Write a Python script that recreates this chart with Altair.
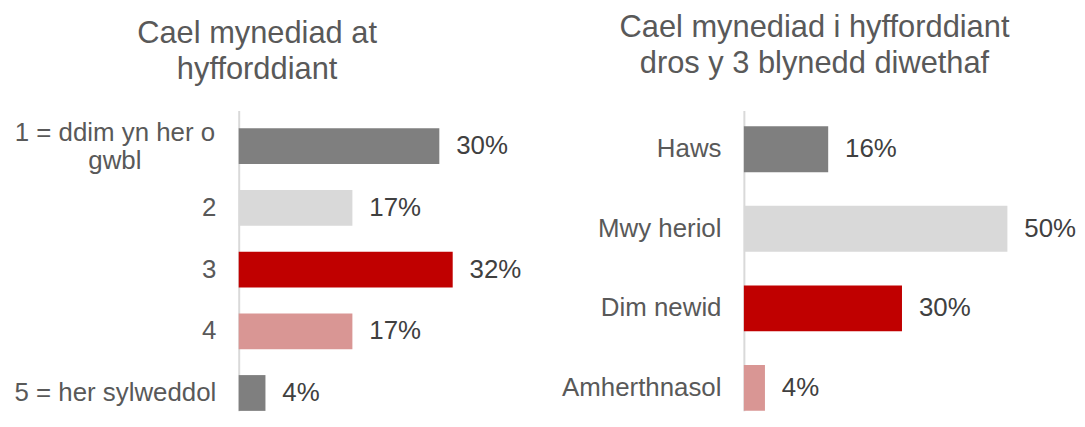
import altair as alt
import pandas as pd

# ---- data ----
left_title = ["Cael mynediad at", "hyfforddiant"]
left_cats = ["1 = ddim yn her o gwbl", "2", "3", "4", "5 = her sylweddol"]
left_vals = [30, 17, 32, 17, 4]
left_colors = ["#7f7f7f", "#d9d9d9", "#c00000", "#d99694", "#7f7f7f"]

right_title = ["Cael mynediad i hyfforddiant", "dros y 3 blynedd diwethaf"]
right_cats = ["Haws", "Mwy heriol", "Dim newid", "Amherthnasol"]
right_vals = [16, 50, 30, 4]
right_colors = ["#7f7f7f", "#d9d9d9", "#c00000", "#d99694"]

FONT = "Liberation Sans"
WRAP = "1 = ddim yn her o gwbl"


def panel(cats, vals, colors, title, xmax, width, height, pin, pout, tdx, toff):
    df = pd.DataFrame({
        "cat": cats,
        "val": vals,
        "col": colors,
        "lab": [f"{v}%" for v in vals],
    })
    is_wrap = f"datum.value == '{WRAP}'"
    y = alt.Y(
        "cat:N",
        sort=cats,
        scale=alt.Scale(paddingInner=pin, paddingOuter=pout, align=1),
        axis=alt.Axis(
            title=None,
            ticks=False,
            grid=False,
            domainColor="#d9d9d9",
            domainWidth=2,
            labelFont=FONT,
            labelFontSize=26,
            labelColor="#595959",
            labelLimit=400,
            labelLineHeight=28,
            labelBaseline="middle",
            labelAlign={"condition": {"test": is_wrap, "value": "center"}, "value": "right"},
            labelPadding={"condition": {"test": is_wrap, "value": 125}, "value": 23},
            labelOffset={"condition": {"test": is_wrap, "value": -13}, "value": 0},
            labelExpr=f"datum.label == '{WRAP}' ? ['1 = ddim yn her o', 'gwbl'] : datum.label",
        ),
    )
    x = alt.X("val:Q", scale=alt.Scale(domain=[0, xmax]), axis=None)
    base = alt.Chart(df)
    bars = base.mark_bar().encode(y=y, x=x, color=alt.Color("col:N", scale=None))
    text = base.mark_text(
        align="left", baseline="middle", dx=17, font=FONT, fontSize=26, color="#404040"
    ).encode(y=y, x=x, text="lab:N")
    return alt.layer(bars, text).properties(
        width=width,
        height=height,
        title=alt.TitleParams(
            text=title,
            font=FONT,
            fontSize=31,
            fontWeight="normal",
            color="#595959",
            anchor="middle",
            frame="group",
            baseline="alphabetic",
            lineHeight=36,
            dx=tdx,
            offset=toff,
        ),
    )


left = panel(left_cats, left_vals, left_colors, left_title, 40, 269, 302, 0.42, 0.1436, -116, 1)
right = panel(right_cats, right_vals, right_colors, right_title, 60, 318, 302, 0.423, 0.099, -88, 7)

chart = (
    alt.hconcat(left, right, spacing=239, bounds="flush")
    .properties(padding={"left": 5, "top": 3, "right": 0, "bottom": 0})
    .configure(background="white")
    .configure_view(stroke="transparent", strokeWidth=0)
)

chart.save("out.html", embed_options={"renderer": "svg", "actions": False})
